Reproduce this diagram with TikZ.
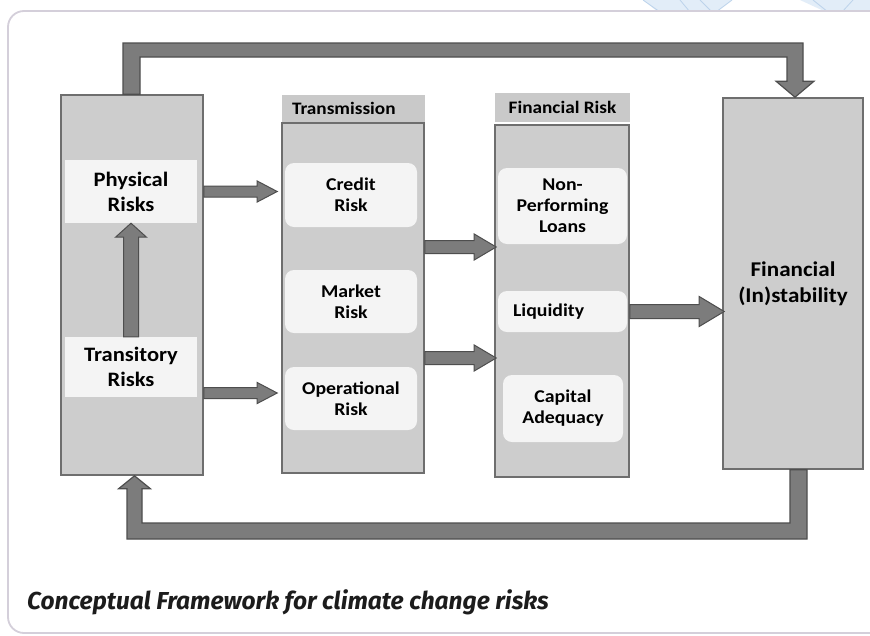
\documentclass[tikz,border=0pt]{standalone}
\usepackage{fontspec}
\setmainfont{Carlito}[FakeStretch=1.1]
\newfontfamily\capfont{Fira Sans}
\usetikzlibrary{calc}

\definecolor{panelgray}{HTML}{CDCDCD}
\definecolor{headgray}{HTML}{C9C9C9}
\definecolor{edgegray}{HTML}{6E6E6E}
\definecolor{cardedge}{HTML}{D4CFDA}
\definecolor{arrowfill}{HTML}{7C7C7C}
\definecolor{arrowedge}{HTML}{4E4E4E}
\definecolor{itemfill}{HTML}{F4F4F4}
\definecolor{decoblue}{HTML}{E2EDF8}
\definecolor{decoline}{HTML}{BCD3EB}
\definecolor{captext}{HTML}{1C1C1C}

\tikzset{
  panel/.style={draw=edgegray, line width=1.6pt, fill=panelgray, inner sep=0pt},
  header/.style={fill=headgray, inner sep=0pt, font=\bfseries\fontsize{17.5}{20}\selectfont},
  plainitem/.style={fill=itemfill, inner sep=0pt, align=center,
    font=\bfseries\fontsize{20.5}{25}\selectfont},
  rounditem/.style={fill=itemfill, rounded corners=9pt, inner sep=0pt, align=center,
    font=\bfseries\fontsize{18}{21}\selectfont},
  blockarrow/.style={fill=arrowfill, draw=arrowedge, line width=1pt, line join=miter},
  loopbar/.style={fill=arrowfill, draw=arrowedge, line width=1.2pt, line join=miter},
}

% horizontal block arrow: start, tip, shaft half width, head half width, head length
\newcommand{\hblock}[5]{%
  \path[blockarrow] let \p1=(#1), \p2=(#2) in
    (\x1,\y1+#3) -- (\x2-#5,\y1+#3) -- (\x2-#5,\y1+#4) -- (\x2,\y1)
    -- (\x2-#5,\y1-#4) -- (\x2-#5,\y1-#3) -- (\x1,\y1-#3) -- cycle;}
% upward block arrow: start, tip, shaft half width, head half width, head length
\newcommand{\vblock}[5]{%
  \path[blockarrow] let \p1=(#1), \p2=(#2) in
    (\x1-#3,\y1) -- (\x1-#3,\y2-#5) -- (\x1-#4,\y2-#5) -- (\x1,\y2)
    -- (\x1+#4,\y2-#5) -- (\x1+#3,\y2-#5) -- (\x1+#3,\y1) -- cycle;}

\begin{document}
\begin{tikzpicture}[x=1pt, y=-1pt]
\useasboundingbox (0,0) rectangle (870,635);
\fill[white] (0,0) rectangle (870,635);

% pale pattern peeking above the card
\begin{scope}
  \clip (0,0) rectangle (870,11);
  \fill[decoblue] (643,0) -- (732,0) -- (716,12) -- (658,12) -- cycle;
  \fill[decoblue] (800,0) -- (870,0) -- (870,12) -- (826,12) -- cycle;
  \draw[decoline, line width=0.8pt] (643,0) -- (660,12) (680,0) -- (690,12)
    (700,0) -- (712,12) (732,0) -- (716,12);
  \draw[decoline, line width=0.8pt] (813,0) -- (828,12) (853,0) -- (842,12);
\end{scope}

% card outline
\draw[cardedge, line width=1.8pt, rounded corners=16pt] (900,11) -- (8,11) -- (8,633) -- (900,633);

% climate risk column
\node[panel, minimum width=142pt, minimum height=380pt] (left) at (132,285) {};
\node[plainitem, minimum width=132pt, minimum height=63pt] (phys) at (131,191.5) {Physical\\Risks};
\node[plainitem, minimum width=132pt, minimum height=60pt] (transi) at (131,367) {Transitory\\Risks};

% transmission column
\node[header, minimum width=143pt, minimum height=27pt, text width=123pt, inner xsep=10pt, align=left]
  (thead) at (353.5,108.5) {Transmission};
\node[panel, minimum width=142pt, minimum height=350pt] (trans) at (353,298) {};
\node[rounditem, minimum width=132pt, minimum height=64pt] (credit) at (351,195) {Credit\\Risk};
\node[rounditem, minimum width=132pt, minimum height=63pt] (market) at (351,301.5) {Market\\Risk};
\node[rounditem, minimum width=132pt, minimum height=63pt] (oper) at (351,398.5) {Operational\\Risk};

% financial risk column
\node[header, minimum width=135pt, minimum height=29pt] (fhead) at (562.5,107.5) {Financial Risk};
\node[panel, minimum width=134pt, minimum height=352pt] (frisk) at (562,301) {};
\node[rounditem, minimum width=129pt, minimum height=76pt] (npl) at (562.5,206) {Non-\\Performing\\Loans};
\node[rounditem, minimum width=129pt, minimum height=41pt, text width=99pt, inner xsep=15pt, align=left]
  (liq) at (562.5,311.5) {Liquidity};
\node[rounditem, minimum width=120pt, minimum height=67pt] (cap) at (563,408.5) {Capital\\Adequacy};

% outcome
\node[panel, minimum width=140pt, minimum height=371pt, align=center,
  font=\bfseries\fontsize{21}{26}\selectfont] (fin) at (793,283.5) {Financial\\(In)stability};

% rails and rows used by the connectors
\coordinate (toprail) at (0,50);
\coordinate (botrail) at (0,531);
\coordinate (row1) at (0,393);
\coordinate (row2) at (0,247);
\coordinate (row3) at (0,358);

% arrows between the columns
\vblock{transi.north}{phys.south}{7.5pt}{15.5pt}{14pt}
\hblock{left.east |- phys.east}{$(trans.west |- phys.east)+(-4,0)$}{5.5pt}{10.5pt}{20pt}
\hblock{left.east |- row1}{$(trans.west |- row1)+(-4,0)$}{5.5pt}{10.5pt}{20pt}
\hblock{trans.east |- row2}{$(frisk.west |- row2)+(2,0)$}{6.5pt}{13pt}{22pt}
\hblock{trans.east |- row3}{$(frisk.west |- row3)+(2,0)$}{6.5pt}{13pt}{22pt}
\hblock{frisk.east |- liq.east}{$(fin.west |- liq.east)+(2,0)$}{7pt}{15pt}{25pt}

% feedback loop over the top
\path[loopbar] let \p1=($(left.north)+(-0.5,0)$), \p2=($(fin.north)+(2,0)$), \p3=(toprail) in
  (\x1-8.5pt,\y1) -- (\x1-8.5pt,\y3+7pt) -- (\x2+8pt,\y3+7pt) -- (\x2+8pt,\y2+16pt)
  -- (\x2+19pt,\y2+16pt) -- (\x2,\y2) -- (\x2-19pt,\y2+16pt) -- (\x2-8pt,\y2+16pt)
  -- (\x2-8pt,\y3-7pt) -- (\x1+8.5pt,\y3-7pt) -- (\x1+8.5pt,\y1) -- cycle;

% feedback loop underneath
\path[loopbar] let \p1=($(fin.south)+(5.5,0)$), \p2=($(left.south)+(2.5,0)$), \p3=(botrail) in
  (\x1-8.5pt,\y1) -- (\x1-8.5pt,\y3+8pt) -- (\x2+7.5pt,\y3+8pt) -- (\x2+7.5pt,\y2-13pt)
  -- (\x2+16pt,\y2-13pt) -- (\x2,\y2) -- (\x2-16pt,\y2-13pt) -- (\x2-7.5pt,\y2-13pt)
  -- (\x2-7.5pt,\y3-8pt) -- (\x1+8.5pt,\y3-8pt) -- (\x1+8.5pt,\y1) -- cycle;

% caption
\node[anchor=base west, inner sep=0pt, text=captext,
  font=\capfont\bfseries\itshape\fontsize{24.5}{28}\selectfont] (caption) at (27,609)
  {Conceptual Framework for climate change risks};
\end{tikzpicture}
\end{document}
